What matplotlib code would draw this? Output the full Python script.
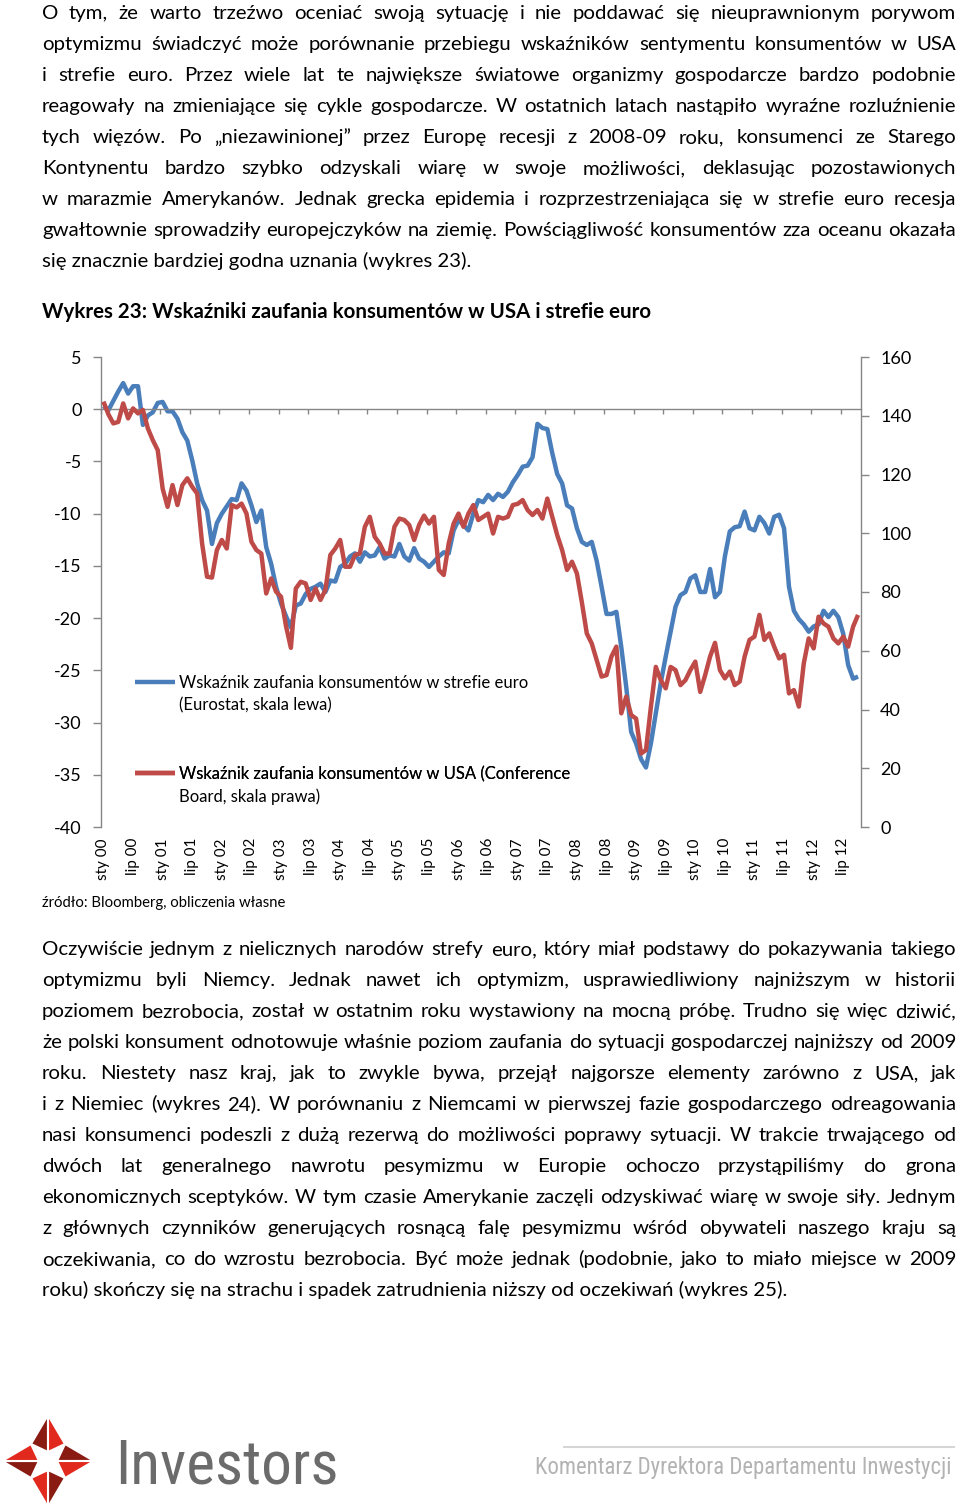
import numpy as np
import matplotlib
matplotlib.use("Agg")
import matplotlib.pyplot as plt
from matplotlib import font_manager as fm
from matplotlib.patches import Polygon

# ---------------- data ----------------
x_tick_labels = ["sty 00", "lip 00", "sty 01", "lip 01", "sty 02", "lip 02",
                 "sty 03", "lip 03", "sty 04", "lip 04", "sty 05", "lip 05",
                 "sty 06", "lip 06", "sty 07", "lip 07", "sty 08", "lip 08",
                 "sty 09", "lip 09", "sty 10", "lip 10", "sty 11", "lip 11",
                 "sty 12", "lip 12"]

# Euro area consumer confidence (left axis), monthly Jan 2000 - Oct 2012
eu_confidence = [
    0.3, -0.1, 0.8, 1.7, 2.5, 1.5, 2.2, 2.2, -1.5, -0.6, -0.3, 0.6,
    0.7, -0.2, -0.2, -0.9, -2.2, -3.0, -4.9, -7.1, -8.7, -9.7, -12.9, -10.9,
    -10.0, -9.3, -8.6, -8.7, -7.1, -7.8, -9.2, -10.8, -9.7, -13.2, -14.8, -17.0,
    -18.6, -19.8, -20.9, -18.8, -18.6, -17.7, -17.2, -17.0, -16.7, -17.5, -16.4, -16.5,
    -15.1, -14.8, -14.1, -13.8, -14.6, -13.7, -14.1, -14.0, -13.2, -14.3, -14.0, -14.1,
    -12.9, -14.1, -14.5, -13.3, -14.3, -14.6, -15.1, -14.6, -14.1, -13.7, -13.8, -11.6,
    -10.6, -11.1, -11.6, -10.0, -8.7, -8.9, -8.2, -8.7, -8.1, -8.4, -7.9, -7.0,
    -6.3, -5.5, -5.4, -4.6, -1.4, -1.8, -1.9, -4.2, -6.2, -7.1, -9.2, -9.5,
    -11.4, -12.7, -13.0, -12.7, -14.5, -17.0, -19.6, -19.6, -19.4, -22.8, -26.6, -30.9,
    -32.0, -33.5, -34.3, -32.0, -29.1, -26.2, -23.7, -21.3, -18.9, -17.8, -17.5, -16.2,
    -15.9, -17.5, -17.5, -15.3, -18.0, -17.5, -14.1, -11.7, -11.3, -11.2, -9.8, -11.4,
    -11.6, -10.3, -10.9, -11.9, -10.3, -10.1, -11.4, -17.0, -19.3, -20.1, -20.6, -21.3,
    -20.8, -20.6, -19.3, -19.9, -19.3, -19.9, -21.5, -24.5, -25.8, -25.6,
]

# US Conference Board consumer confidence (right axis)
us_confidence = [
    144.8, 140.5, 137.4, 137.9, 144.2, 139.1, 142.5, 140.8, 142.0, 135.7, 131.7, 128.3,
    115.2, 109.0, 116.4, 109.6, 116.4, 118.7, 115.8, 113.5, 96.5, 85.2, 84.9, 94.3,
    97.7, 94.8, 109.6, 108.8, 110.1, 106.7, 97.1, 94.3, 93.1, 79.5, 84.6, 80.1,
    78.4, 68.5, 61.0, 81.2, 83.5, 82.9, 77.3, 81.2, 77.3, 80.7, 92.6, 94.8,
    97.7, 88.6, 88.6, 92.6, 93.1, 102.2, 105.6, 98.8, 96.5, 93.1, 93.1, 102.2,
    105.0, 104.5, 102.8, 97.7, 102.8, 106.0, 103.3, 105.6, 87.5, 85.8, 96.5, 103.3,
    106.7, 102.2, 106.7, 109.6, 104.5, 105.6, 106.7, 99.9, 105.6, 105.0, 105.6, 109.6,
    110.0, 111.3, 107.9, 106.2, 107.9, 105.0, 111.8, 105.6, 99.4, 94.3, 87.5, 90.3,
    86.3, 76.5, 65.9, 62.5, 56.9, 51.2, 51.7, 58.0, 61.4, 38.7, 44.4, 38.1,
    36.9, 25.0, 26.2, 40.9, 54.5, 50.0, 47.2, 54.5, 53.4, 48.3, 50.0, 53.4,
    56.3, 46.0, 51.7, 58.0, 62.7, 53.4, 50.6, 52.9, 48.3, 49.5, 58.0, 63.7,
    64.8, 72.2, 63.7, 65.9, 61.4, 57.4, 58.6, 45.5, 46.6, 41.0, 55.7, 64.2,
    60.8, 71.6, 69.3, 68.2, 64.2, 62.5, 64.8, 61.4, 68.2, 72.2,
]

left_ticks = [5, 0, -5, -10, -15, -20, -25, -30, -35, -40]
right_ticks = [0, 20, 40, 60, 80, 100, 120, 140, 160]

legend_eu = ["Wskaźnik zaufania konsumentów w strefie euro", "(Eurostat, skala lewa)"]
legend_us = ["Wskaźnik zaufania konsumentów w USA (Conference", "Board, skala prawa)"]
title = "Wykres 23: Wskaźniki zaufania konsumentów w USA i strefie euro"
source = "źródło: Bloomberg, obliczenia własne"

para1 = [
    "O tym, że warto trzeźwo oceniać swoją sytuację i nie poddawać się nieuprawnionym porywom",
    "optymizmu świadczyć może porównanie przebiegu wskaźników sentymentu konsumentów w USA",
    "i strefie euro. Przez wiele lat te największe światowe organizmy gospodarcze bardzo podobnie",
    "reagowały na zmieniające się cykle gospodarcze. W ostatnich latach nastąpiło wyraźne rozluźnienie",
    "tych więzów. Po „niezawinionej” przez Europę recesji z 2008-09 roku, konsumenci ze Starego",
    "Kontynentu bardzo szybko odzyskali wiarę w swoje możliwości, deklasując pozostawionych",
    "w marazmie Amerykanów. Jednak grecka epidemia i rozprzestrzeniająca się w strefie euro recesja",
    "gwałtownie sprowadziły europejczyków na ziemię. Powściągliwość konsumentów zza oceanu okazała",
    "się znacznie bardziej godna uznania (wykres 23).",
]
para2 = [
    "Oczywiście jednym z nielicznych narodów strefy euro, który miał podstawy do pokazywania takiego",
    "optymizmu byli Niemcy. Jednak nawet ich optymizm, usprawiedliwiony najniższym w historii",
    "poziomem bezrobocia, został w ostatnim roku wystawiony na mocną próbę. Trudno się więc dziwić,",
    "że polski konsument odnotowuje właśnie poziom zaufania do sytuacji gospodarczej najniższy od 2009",
    "roku. Niestety nasz kraj, jak to zwykle bywa, przejął najgorsze elementy zarówno z USA, jak",
    "i z Niemiec (wykres 24). W porównaniu z Niemcami w pierwszej fazie gospodarczego odreagowania",
    "nasi konsumenci podeszli z dużą rezerwą do możliwości poprawy sytuacji. W trakcie trwającego od",
    "dwóch lat generalnego nawrotu pesymizmu w Europie ochoczo przystąpiliśmy do grona",
    "ekonomicznych sceptyków. W tym czasie Amerykanie zaczęli odzyskiwać wiarę w swoje siły. Jednym",
    "z głównych czynników generujących rosnącą falę pesymizmu wśród obywateli naszego kraju są",
    "oczekiwania, co do wzrostu bezrobocia. Być może jednak (podobnie, jako to miało miejsce w 2009",
    "roku) skończy się na strachu i spadek zatrudnienia niższy od oczekiwań (wykres 25).",
]
brand = "Investors"
footer = "Komentarz Dyrektora Departamentu Inwestycji"

# ---------------- styles ----------------
BLUE = "#4a7ebb"
RED = "#be4b48"
AXC = "#868686"
TXT = "#000000"

W, H = 960, 1509
names = {f.name for f in fm.fontManager.ttflist}


def pick(*cands):
    for c in cands:
        if c in names:
            return c
    return "DejaVu Sans"


BODY = pick("Lato", "Open Sans", "Noto Sans", "DejaVu Sans")
NARROW = pick("Liberation Sans Narrow", "Roboto Condensed", "Liberation Sans", "Roboto")
plt.rcParams["font.family"] = [BODY, "DejaVu Sans"]

fig = plt.figure(figsize=(W / 100, H / 100), dpi=100, facecolor="white")
renderer = fig.canvas.get_renderer()

bg = fig.add_axes([0, 0, 1, 1])
bg.set_xlim(0, W)
bg.set_ylim(H, 0)
bg.axis("off")


def measure(s, size, family=BODY, weight="normal"):
    t = bg.text(0, 0, s, fontsize=size, family=[family, "DejaVu Sans"], weight=weight)
    w = t.get_window_extent(renderer).width
    t.remove()
    return w


def fit_size(s, width, family=BODY, weight="normal", ref=20.0):
    return ref * width / measure(s, ref, family, weight)


# ---------------- body text ----------------
X0, X1 = 42, 956
REF = 16.0
justified = para1[:-1] + para2[:-1]
body_size = REF * min((X1 - X0) / measure(l, REF) for l in justified) * 0.995


def draw_para(lines, y0, size, pitch=31):
    for k, line in enumerate(lines):
        y = y0 + pitch * k
        if k == len(lines) - 1:
            bg.text(X0, y, line, fontsize=size, va="baseline", ha="left", color=TXT)
            continue
        words = line.split(" ")
        ws = [measure(w, size) for w in words]
        gap = (X1 - X0 - sum(ws)) / (len(words) - 1)
        x = X0
        for w, wd in zip(words, ws):
            bg.text(x, y, w, fontsize=size, va="baseline", ha="left", color=TXT)
            x += wd + gap


draw_para(para1, 19, body_size)
draw_para(para2, 955, body_size)

# title and source
title_size = fit_size(title, 607, weight="bold")
bg.text(X0, 318, title, fontsize=title_size, weight="bold", va="baseline", ha="left", color=TXT)
src_size = fit_size(source, 244)
bg.text(X0, 907, source, fontsize=src_size, va="baseline", ha="left", color=TXT)

# ---------------- chart ----------------
L, R, T, B = 101, 860.5, 357, 827
ax = fig.add_axes([L / W, 1 - B / H, (R - L) / W, (B - T) / H])
ax.patch.set_visible(False)
n = len(eu_confidence)
months = np.arange(n)
ax.set_xlim(-0.5, n - 0.5)
ax.set_ylim(-40, 5)
ax2 = ax.twinx()
ax2.set_ylim(0, 160)

line_eu, = ax.plot(months, eu_confidence, color=BLUE, lw=3.2,
                   solid_joinstyle="round", solid_capstyle="butt")
line_us, = ax2.plot(months, us_confidence, color=RED, lw=3.2,
                    solid_joinstyle="round", solid_capstyle="butt")

for sp in ["top", "right"]:
    ax.spines[sp].set_visible(False)
ax.spines["bottom"].set_position(("data", 0))
for sp in ["left", "bottom"]:
    ax.spines[sp].set_color(AXC)
    ax.spines[sp].set_linewidth(1.0)
for sp in ["top", "left", "bottom"]:
    ax2.spines[sp].set_visible(False)
ax2.spines["right"].set_color(AXC)
ax2.spines["right"].set_linewidth(1.0)

ax.set_yticks(left_ticks, [str(v) for v in left_ticks])
ax.tick_params(axis="y", direction="out", length=5.8, width=1, color=AXC,
               pad=8, labelsize=13, labelcolor=TXT)
ax.set_xticks(np.arange(-0.5, n - 0.5, 6))
ax.tick_params(axis="x", direction="out", length=3.6, width=1, color=AXC,
               labelbottom=False)

ax2.set_yticks(right_ticks, [str(v) for v in right_ticks])
ax2.tick_params(axis="y", direction="out", length=5.8, width=1, color=AXC,
                pad=8.3, labelsize=13, labelcolor=TXT)

sec = ax.secondary_xaxis("bottom")
sec.set_ticks(np.arange(0, n, 6)[:len(x_tick_labels)], labels=x_tick_labels)
sec.tick_params(length=0, pad=8, labelsize=11, labelrotation=90, labelcolor=TXT)
sec.spines["bottom"].set_visible(False)

# legend
leg_size = fit_size(legend_eu[0], 351)
hl = 40 * 0.72 / leg_size
hp = 4 * 0.72 / leg_size
common = dict(loc="center left", bbox_transform=bg.transData, frameon=False,
              fontsize=leg_size, handlelength=hl, handletextpad=hp,
              borderpad=0, borderaxespad=0)
leg1 = bg.legend([line_eu], [legend_eu[0]], bbox_to_anchor=(135, 683), **common)
bg.add_artist(leg1)
leg2 = bg.legend([line_us], [legend_us[0]], bbox_to_anchor=(135, 774), **common)
bg.add_artist(leg2)
bg.text(179, 710, legend_eu[1], fontsize=leg_size, va="baseline", ha="left", color=TXT)
bg.text(179, 802, legend_us[1], fontsize=leg_size, va="baseline", ha="left", color=TXT)

# ---------------- footer / logo ----------------
RED_L = "#e12a1d"
BROWN_L = "#8a1b12"
cx, cy, Rl, ri, rm = 48, 1461, 46, 17, 9
arms = [
    ((cx, cy - Rl), (cx - ri, cy - ri), (cx + ri, cy - ri), (cx, cy - rm)),
    ((cx + Rl, cy), (cx + ri, cy - ri), (cx + ri, cy + ri), (cx + rm, cy)),
    ((cx, cy + Rl), (cx + ri, cy + ri), (cx - ri, cy + ri), (cx, cy + rm)),
    ((cx - Rl, cy), (cx - ri, cy + ri), (cx - ri, cy - ri), (cx - rm, cy)),
]
for tip, a, b, m in arms:
    bg.add_patch(Polygon([tip, a, m], closed=True, facecolor=BROWN_L,
                         edgecolor="white", lw=1.5))
    bg.add_patch(Polygon([tip, b, m], closed=True, facecolor=RED_L,
                         edgecolor="white", lw=1.5))

brand_size = fit_size(brand, 223, family=NARROW)
bg.text(115, 1483, brand, fontsize=brand_size, family=[NARROW, "DejaVu Sans"],
        va="baseline", ha="left", color="#6b6b6b")

bg.plot([563, 955], [1447, 1447], color="#d6d6d6", lw=1.5, solid_capstyle="butt")
foot_size = fit_size(footer, 415, family=NARROW)
bg.text(535, 1474, footer, fontsize=foot_size, family=[NARROW, "DejaVu Sans"],
        va="baseline", ha="left", color="#b3b3b3")

fig.savefig("out.png", dpi=100, facecolor="white")
